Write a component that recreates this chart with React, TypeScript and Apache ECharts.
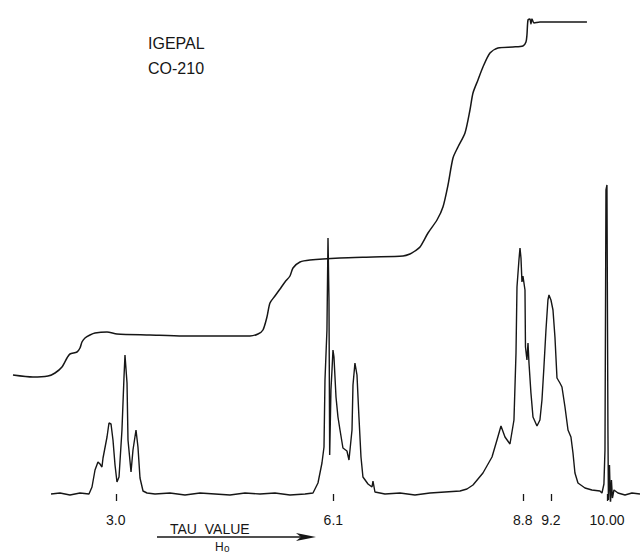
import React, { useEffect, useRef } from "react";
import * as echarts from "echarts";

// Tau value positions of the tick marks and their labels
const TICK_VALUES = [3.0, 6.1, 8.8, 9.2, 10.0];
const TICK_LABELS = ["3.0", "6.1", "8.8", "9.2", "10.00"];

// NMR absorption trace: [tau, intensity]
const SPECTRUM: [number, number][] = [
  [2.077, 0], [2.205, 1], [2.347, -1], [2.49, 1], [2.618, 0], [2.661, 7], [2.704, 24],
  [2.746, 32], [2.775, 30], [2.803, 27], [2.818, 36], [2.875, 57], [2.903, 71], [2.932, 70],
  [2.96, 54], [2.989, 29], [3.017, 12], [3.046, 17], [3.088, 64], [3.117, 117], [3.131, 139],
  [3.16, 111], [3.174, 54], [3.217, 22], [3.245, 44], [3.288, 64], [3.316, 47], [3.345, 16],
  [3.388, 3], [3.445, 1], [3.559, 0], [3.772, 1], [3.986, -1], [4.2, 1], [4.414, 0],
  [4.627, -1], [4.841, 1], [5.055, 0], [5.268, 1], [5.482, -1], [5.696, 0], [5.81, 1],
  [5.881, 11], [5.938, 31], [5.967, 47], [5.981, 114], [6.009, 164], [6.024, 256], [6.038, 194],
  [6.048, 39], [6.066, 104], [6.081, 124], [6.095, 144], [6.109, 137], [6.138, 97], [6.166, 77],
  [6.195, 64], [6.237, 46], [6.294, 43], [6.323, 34], [6.366, 64], [6.38, 109], [6.408, 131],
  [6.437, 119], [6.465, 77], [6.494, 37], [6.522, 17], [6.594, 10], [6.651, 7], [6.665, 13],
  [6.693, 2], [6.836, 0], [7.05, 1], [7.263, -1], [7.477, 1], [7.691, 2], [7.905, 3],
  [8.004, 5], [8.09, 9], [8.232, 21], [8.361, 37], [8.432, 54], [8.489, 68], [8.546, 57],
  [8.617, 50], [8.674, 74], [8.703, 141], [8.717, 207], [8.745, 234], [8.76, 246], [8.774, 236],
  [8.788, 212], [8.802, 218], [8.831, 204], [8.838, 147], [8.859, 134], [8.874, 151], [8.888, 131],
  [8.916, 101], [8.945, 77], [9.002, 68], [9.044, 74], [9.073, 94], [9.101, 127], [9.13, 164],
  [9.158, 194], [9.173, 199], [9.201, 194], [9.23, 184], [9.258, 157], [9.287, 116], [9.329, 111],
  [9.358, 107], [9.401, 87], [9.444, 64], [9.486, 57], [9.515, 41], [9.543, 21], [9.586, 11],
  [9.686, 6], [9.785, 4], [9.899, 3], [9.928, 1], [9.956, 10], [9.971, 44], [9.985, 304],
  [9.999, 309], [10.013, 64], [10.02, -6], [10.035, 29], [10.049, -11], [10.063, 14], [10.077, -4],
  [10.099, 4], [10.156, 1], [10.256, -1], [10.355, 1], [10.47, 0],
];

// Integral trace: [tau, height]
const INTEGRAL: [number, number][] = [
  [1.535, 119], [1.82, 117], [2.034, 118], [2.134, 121], [2.233, 127], [2.305, 136], [2.347, 140],
  [2.447, 142], [2.49, 146], [2.518, 152], [2.561, 156], [2.632, 159], [2.704, 161], [2.875, 162],
  [3.017, 160], [3.487, 159], [3.958, 158], [4.442, 158], [4.912, 158], [5.026, 160], [5.097, 164],
  [5.154, 177], [5.197, 191], [5.268, 198], [5.34, 205], [5.411, 212], [5.482, 218], [5.525, 226],
  [5.625, 232], [5.767, 234], [6.195, 236], [6.665, 237], [7.092, 238], [7.192, 240], [7.263, 243],
  [7.335, 247], [7.449, 261], [7.577, 274], [7.662, 287], [7.734, 309], [7.805, 336], [7.876, 347],
  [7.976, 361], [8.047, 384], [8.09, 401], [8.161, 414], [8.232, 427], [8.332, 441], [8.446, 446],
  [8.66, 447], [8.802, 448], [8.845, 452], [8.859, 459], [8.874, 474], [8.902, 475], [8.916, 470],
  [8.93, 475], [8.959, 471], [9.044, 472], [9.329, 472], [9.515, 472], [9.714, 472],
];

const SAMPLE_NAME = ["IGEPAL", "CO-210"];
const AXIS_TITLE = "TAU  VALUE";

const FONT = "'Liberation Sans', Arial, sans-serif";
const INK = "#161616";

export default function App() {
  const ref = useRef<HTMLDivElement>(null);

  useEffect(() => {
    if (!ref.current) return;
    const chart = echarts.init(ref.current, undefined, { renderer: "svg" });
    chart.setOption({
      animation: false,
      backgroundColor: "#ffffff",
      grid: { left: 0, right: 0, top: 0, bottom: 53, containLabel: false },
      xAxis: {
        type: "value",
        min: 1.35,
        max: 10.47,
        axisLine: { show: false },
        splitLine: { show: false },
        axisTick: {
          show: true,
          customValues: TICK_VALUES,
          length: 7,
          inside: false,
          lineStyle: { color: INK, width: 1.3 },
        },
        axisLabel: {
          show: true,
          customValues: TICK_VALUES,
          margin: 12,
          color: INK,
          fontSize: 14,
          fontFamily: FONT,
          formatter: (v: number) => {
            const i = TICK_VALUES.findIndex((t) => Math.abs(t - v) < 1e-6);
            return i >= 0 ? TICK_LABELS[i] : "";
          },
        },
      },
      yAxis: {
        type: "value",
        min: -7,
        max: 494,
        show: false,
        splitLine: { show: false },
      },
      series: [
        {
          name: "integral",
          type: "line",
          data: INTEGRAL,
          showSymbol: false,
          smooth: 0.25,
          lineStyle: { color: INK, width: 1.5 },
          silent: true,
        },
        {
          name: "spectrum",
          type: "line",
          data: SPECTRUM,
          showSymbol: false,
          smooth: false,
          lineStyle: { color: INK, width: 1.4 },
          silent: true,
        },
      ],
      graphic: [
        {
          type: "text",
          left: 148,
          top: 35,
          style: { text: SAMPLE_NAME[0], fontSize: 16, fontFamily: FONT, fill: INK },
        },
        {
          type: "text",
          left: 148,
          top: 60,
          style: { text: SAMPLE_NAME[1], fontSize: 16, fontFamily: FONT, fill: INK },
        },
        {
          type: "text",
          left: 170,
          top: 522,
          style: { text: AXIS_TITLE, fontSize: 14, fontFamily: FONT, fill: INK },
        },
        {
          type: "line",
          shape: { x1: 157, y1: 537, x2: 304, y2: 537 },
          style: { stroke: INK, lineWidth: 1.4 },
        },
        {
          type: "polygon",
          shape: { points: [[316, 537], [296, 533], [301, 537], [296, 541]] },
          style: { fill: INK },
        },
        {
          type: "text",
          left: 215,
          top: 541,
          style: { text: "H", fontSize: 12, fontFamily: FONT, fill: INK },
        },
        {
          type: "text",
          left: 224,
          top: 543,
          style: { text: "o", fontSize: 10, fontFamily: FONT, fill: INK },
        },
      ],
    });
    return () => chart.dispose();
  }, []);

  return (
    <div
      ref={ref}
      style={{ position: "absolute", left: 0, top: 0, width: 640, height: 554, background: "#fff" }}
    />
  );
}
